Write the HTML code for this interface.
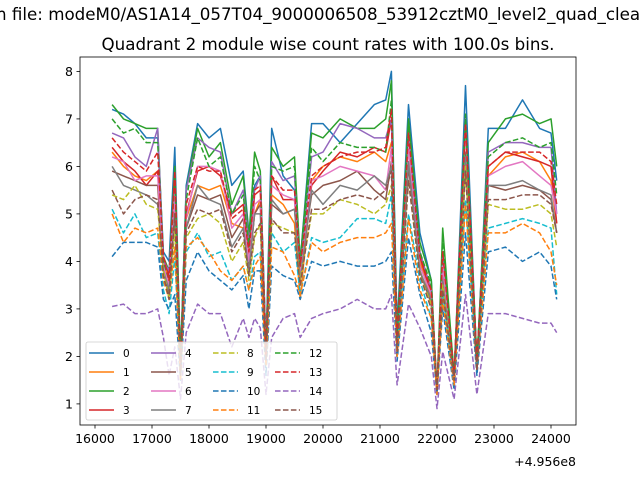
<!DOCTYPE html>
<html><head><meta charset="utf-8"><style>
body{margin:0;background:#fff;}
svg{display:block;font-family:"DejaVu Sans","Liberation Sans",sans-serif;}
</style></head><body>
<svg id="chart" width="640" height="480" viewBox="0 0 640 480">
<rect x="0" y="0" width="640" height="480" fill="#fff"/>
<text x="-4" y="20" font-size="16.7" fill="#000">n file: modeM0/AS1A14_057T04_9000006508_53912cztM0_level2_quad_clean.evt</text>
<text x="328" y="50" font-size="16.7" text-anchor="middle" fill="#000">Quadrant 2 module wise count rates with 100.0s bins.</text>
<g id="series"></g>
<g id="axes"></g>
<g id="legend"></g>
</svg>
<script>
const times=[16300,16500,16700,16900,17100,17200,17300,17400,17500,17600,17800,18000,18200,18400,18600,18700,18800,18900,19000,19100,19300,19500,19600,19800,20000,20300,20600,20900,21100,21200,21300,21500,21700,21900,22000,22100,22300,22500,22700,22900,23200,23500,23800,24000,24100];
const s0=[7.2,7.1,6.9,6.6,6.6,4.2,4.0,6.4,1.9,5.6,6.9,6.6,6.8,5.6,5.9,4.6,5.6,5.8,2.2,6.8,5.8,5.5,4.0,6.9,6.9,6.5,6.9,7.3,7.4,8.0,2.6,7.3,4.6,3.6,1.2,3.8,1.5,7.7,1.8,6.8,6.8,7.4,6.8,6.7,5.7];
const s1=[6.3,6.0,5.8,5.7,5.9,4.0,3.6,5.6,1.8,4.9,5.6,5.5,5.6,4.8,4.7,3.8,5.0,5.3,2.0,5.4,5.2,4.8,3.2,5.7,6.0,6.2,6.1,6.3,6.1,6.5,2.2,6.4,4.0,3.2,1.3,3.6,1.6,6.8,1.9,5.8,6.2,6.3,6.1,5.7,4.8];
const s2=[7.3,7.0,6.9,6.8,6.8,4.1,3.8,6.0,1.9,5.5,6.8,6.2,6.5,5.2,5.8,4.5,6.3,5.9,2.1,6.4,6.0,6.2,4.0,6.7,6.6,7.0,6.8,6.8,7.0,7.8,2.4,7.0,4.4,3.6,1.3,4.7,1.6,7.1,1.9,6.5,7.0,7.1,6.9,7.0,6.0];
const s3=[6.4,6.1,5.9,5.6,5.9,4.1,3.7,5.8,1.7,5.0,5.9,6.0,5.8,5.0,5.2,4.0,5.4,5.5,2.0,5.8,5.3,5.3,3.8,5.6,5.9,6.3,6.2,6.4,6.3,7.0,2.3,6.6,4.1,3.3,1.3,4.1,1.6,6.9,1.8,6.0,6.3,6.2,6.1,6.0,4.8];
const s4=[6.7,6.6,6.2,6.0,6.8,4.0,3.8,5.5,1.8,5.5,6.6,6.4,6.3,5.0,5.5,4.4,5.5,5.8,2.2,6.1,5.7,5.8,3.9,6.2,6.3,6.9,6.8,6.6,6.6,7.0,2.3,6.7,4.2,3.4,1.3,4.2,1.6,7.0,1.9,6.3,6.5,6.5,6.4,6.4,5.0];
const s5=[5.9,5.8,5.7,5.6,5.6,3.8,3.3,5.3,1.6,4.7,5.4,5.3,5.4,4.5,4.9,3.9,5.0,5.2,2.0,5.2,5.0,5.1,3.8,5.4,5.6,5.7,5.9,5.5,5.3,6.1,2.1,6.0,3.8,3.1,1.2,3.7,1.5,6.3,1.7,5.6,5.5,5.6,5.5,5.3,4.6];
const s6=[6.2,6.1,5.7,5.8,5.8,3.9,3.5,5.4,1.7,4.9,6.0,6.0,5.9,4.7,5.0,4.0,5.2,5.3,2.1,5.6,5.4,5.3,3.7,5.7,5.8,6.0,5.9,5.8,5.5,6.4,2.2,6.4,3.9,3.3,1.3,3.9,1.6,6.8,1.8,5.8,6.0,6.1,5.8,5.6,5.0];
const s7=[6.0,5.6,5.5,5.4,5.2,3.8,3.4,5.0,1.7,4.7,5.6,5.3,5.2,4.3,4.7,3.8,5.0,5.0,2.1,5.3,5.0,5.1,3.6,5.5,5.2,5.6,5.5,5.8,5.6,6.0,2.2,6.1,3.8,3.2,1.3,3.6,1.6,6.2,1.8,5.6,5.6,5.7,5.5,5.4,4.6];
const s8=[5.4,5.3,5.6,5.2,5.1,3.8,3.2,4.7,1.5,4.5,4.9,5.0,4.8,4.0,4.4,3.6,4.5,4.8,2.0,4.8,4.7,4.6,3.6,5.0,5.0,5.3,5.2,5.0,5.2,5.6,2.1,5.7,3.7,3.1,1.3,3.5,1.5,6.0,1.7,5.2,5.1,5.1,5.2,5.0,4.3];
const s9=[5.1,4.6,5.0,4.5,4.6,3.4,2.9,4.1,1.6,4.2,4.6,4.1,4.2,3.6,3.9,3.4,4.1,4.2,1.9,4.6,4.2,4.4,3.3,4.5,4.4,4.5,4.9,4.9,4.8,5.4,2.2,5.0,3.6,2.8,1.3,3.3,1.5,5.3,1.9,4.7,4.8,4.9,4.8,4.7,3.3];
const s10=[4.1,4.4,4.4,4.4,4.3,3.2,3.0,3.3,1.5,3.6,4.2,3.8,3.6,3.4,3.7,3.0,3.8,3.8,1.6,3.9,3.7,3.6,3.2,4.0,3.9,4.0,3.9,3.9,4.0,4.2,1.9,4.5,3.3,2.5,1.2,3.0,1.3,4.6,1.6,4.2,4.3,4.0,4.2,3.9,3.2];
const s11=[5.0,4.4,4.7,4.6,4.7,3.6,3.2,4.3,1.5,4.3,4.5,4.2,3.8,3.6,3.9,3.4,3.9,4.1,1.8,4.3,4.2,3.7,3.3,4.4,4.2,4.4,4.5,4.5,4.6,4.8,2.0,4.9,3.4,2.8,1.2,3.2,1.4,5.2,1.7,4.6,4.6,4.8,4.6,4.2,3.5];
const s12=[7.0,6.7,6.8,6.5,6.5,4.0,3.6,5.8,1.9,5.3,6.6,6.0,6.2,5.0,5.4,4.3,6.0,5.7,2.1,6.0,5.9,6.0,3.9,6.4,6.1,6.5,6.4,6.4,6.3,7.4,2.4,6.9,4.2,3.5,1.3,4.4,1.6,7.0,1.9,6.2,6.5,6.6,6.4,6.5,5.4];
const s13=[6.6,6.3,6.1,5.9,6.3,4.1,3.6,5.9,1.7,5.2,6.0,5.9,5.9,4.9,5.1,4.2,5.5,5.6,2.0,5.8,5.5,5.5,3.9,5.8,6.0,6.2,6.3,6.3,6.4,7.2,2.3,6.7,4.1,3.4,1.3,4.2,1.6,6.9,1.9,6.0,6.3,6.3,6.3,6.1,5.2];
const s14=[3.05,3.1,2.9,2.9,3.0,2.4,1.6,2.2,1.1,2.5,3.1,2.9,2.9,2.2,2.8,2.4,2.8,2.6,1.2,2.4,2.8,2.9,2.4,2.8,2.9,3.0,3.2,3.0,3.0,3.3,1.4,3.1,2.6,2.0,0.9,2.1,1.1,3.3,1.2,2.9,2.9,2.8,2.7,2.7,2.5];
const s15=[5.5,5.0,5.3,5.4,5.3,3.7,3.2,5.0,1.6,4.6,5.1,5.0,5.1,4.2,4.6,3.7,4.6,4.8,1.9,4.9,4.6,4.6,3.5,5.1,5.1,5.3,5.4,5.3,5.5,5.9,2.1,5.7,3.7,3.0,1.3,3.4,1.5,5.9,1.7,5.3,5.3,5.4,5.4,5.2,4.6];
const seriesNames=["0","1","2","3","4","5","6","7","8","9","10","11","12","13","14","15"];
const xTicks=[16000,17000,18000,19000,20000,21000,22000,23000,24000];
const yTicks=[1,2,3,4,5,6,7,8];

const allSeries=[s0,s1,s2,s3,s4,s5,s6,s7,s8,s9,s10,s11,s12,s13,s14,s15];
const colors=["#1f77b4","#ff7f0e","#2ca02c","#d62728","#9467bd","#8c564b","#e377c2","#7f7f7f","#bcbd22","#17becf","#1f77b4","#ff7f0e","#2ca02c","#d62728","#9467bd","#8c564b"];
const NS="http://www.w3.org/2000/svg";
const L=80,R=576,T=57,B=425;
function xs(t){return 95+(t-16000)*0.057;}
function ys(v){return 451.4-v*47.5;}
function mk(tag,attrs,parent){const e=document.createElementNS(NS,tag);for(const k in attrs)e.setAttribute(k,attrs[k]);parent.appendChild(e);return e;}
const gS=document.getElementById('series');
allSeries.forEach((arr,i)=>{
  const d=arr.map((v,j)=>(j?'L':'M')+xs(times[j]).toFixed(1)+','+ys(v).toFixed(1)).join('');
  const p=mk('path',{d:d,fill:'none',stroke:colors[i],'stroke-width':1.5,'stroke-linejoin':'round'},gS);
  if(i>=8)p.setAttribute('stroke-dasharray','5.55,2.4');
  
  
});
const gA=document.getElementById('axes');
const fr=mk('rect',{x:L,y:T,width:R-L,height:B-T,fill:'none',stroke:'#000','stroke-width':0.8},gA);


xTicks.forEach(t=>{
  const x=xs(t);
  const tk=mk('line',{x1:x,x2:x,y1:B,y2:B+3.5,stroke:'#000','stroke-width':0.8},gA);
  
  
  const tx=mk('text',{x:x,y:B+18,'font-size':12.5,'text-anchor':'middle',fill:'#000'},gA);
  tx.textContent=t;
  
  
});
yTicks.forEach(v=>{
  const y=ys(v);
  const tk=mk('line',{x1:L-3.5,x2:L,y1:y,y2:y,stroke:'#000','stroke-width':0.8},gA);
  
  
  const tx=mk('text',{x:L-7,y:y+4.5,'font-size':12.5,'text-anchor':'end',fill:'#000'},gA);
  tx.textContent=v;
  
  
});
const off=mk('text',{x:576,y:466,'font-size':12.5,'text-anchor':'end',fill:'#000'},gA);
off.textContent='+4.956e8';


const gL=document.getElementById('legend');
const lb=mk('rect',{x:86,y:342,width:251,height:78,rx:2,fill:'#fff','fill-opacity':0.8,stroke:'#ccc','stroke-width':0.8},gL);


seriesNames.forEach((n,i)=>{
  const col=Math.floor(i/4),row=i%4;
  const x=89+col*62,y=353+row*19;
  const g=mk('g',{},gL);
  
  
  const ln=mk('line',{x1:x,x2:x+25,y1:y,y2:y,stroke:colors[i],'stroke-width':1.5},g);
  if(i>=8)ln.setAttribute('stroke-dasharray','5.55,2.4');
  const tx=mk('text',{x:x+34,y:y+4,'font-size':10.5,fill:'#000'},g);
  tx.textContent=n;
});
</script>
</body></html>
